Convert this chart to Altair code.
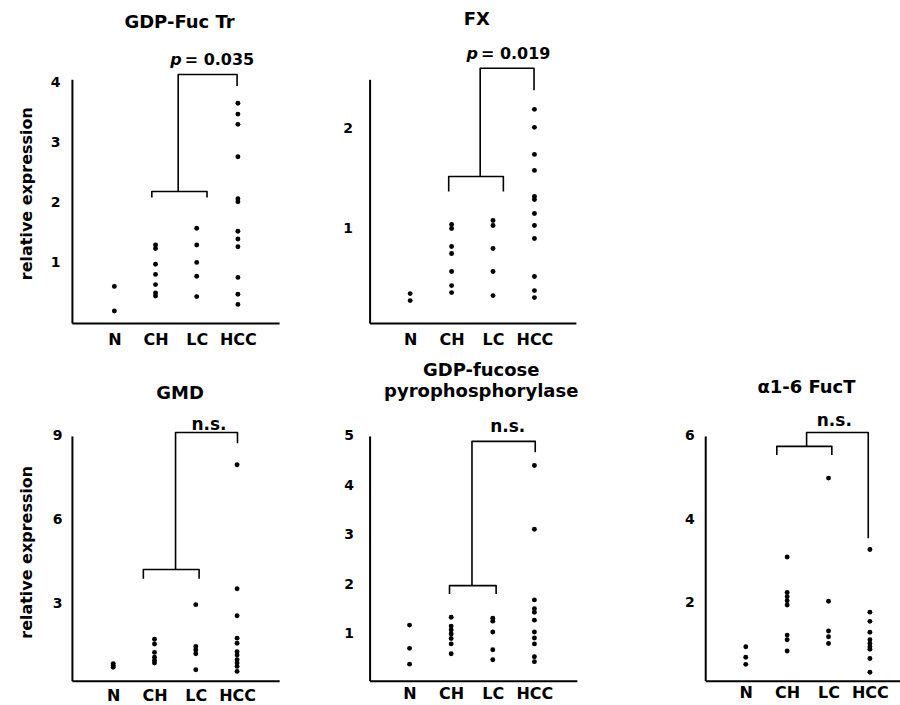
import json
import altair as alt
import pandas as pd

FONT = "DejaVu Sans"

categories = ["N", "CH", "LC", "HCC"]

# GDP-Fuc Tr
gft_N = [0.61, 0.20]
gft_CH = [1.30, 1.24, 0.98, 0.81, 0.64, 0.50, 0.45]
gft_LC = [1.58, 1.30, 1.01, 0.78, 0.44]
gft_HCC = [3.66, 3.48, 3.31, 2.77, 2.07, 2.02, 1.53, 1.40, 1.27, 0.76, 0.48, 0.31]

# FX
fx_N = [0.35, 0.28]
fx_CH = [1.04, 1.00, 0.82, 0.75, 0.57, 0.43, 0.36]
fx_LC = [1.08, 1.03, 0.80, 0.57, 0.33]
fx_HCC = [2.19, 2.01, 1.74, 1.58, 1.32, 1.29, 1.15, 1.03, 0.90, 0.52, 0.38, 0.31]

# GMD
gmd_N = [0.85, 0.78, 0.72]
gmd_CH = [1.72, 1.55, 1.25, 1.08, 0.96, 0.87]
gmd_LC = [2.96, 1.46, 1.34, 1.20, 0.63]
gmd_HCC = [7.97, 3.53, 2.56, 1.76, 1.58, 1.28, 1.16, 0.99, 0.87, 0.75, 0.57]

# GDP-fucose pyrophosphorylase
gfpp_N = [1.17, 0.70, 0.38]
gfpp_CH = [1.33, 1.15, 1.07, 0.99, 0.90, 0.79, 0.59]
gfpp_LC = [1.31, 1.25, 1.03, 0.67, 0.47]
gfpp_HCC = [4.40, 3.11, 1.68, 1.50, 1.43, 1.27, 1.03, 0.91, 0.79, 0.53, 0.43]

# alpha1-6 FucT
fuct_N = [0.95, 0.70, 0.53]
fuct_CH = [3.10, 2.25, 2.15, 2.05, 1.95, 1.23, 1.12, 0.85]
fuct_LC = [4.99, 2.04, 1.33, 1.19, 1.03]
fuct_HCC = [3.28, 1.78, 1.56, 1.30, 1.12, 1.03, 0.95, 0.89, 0.67, 0.34]

# significance brackets (data units): brace under CH+LC, link to HCC
gft_brace = ([0.91, 0.91, 2.25, 2.25], [2.09, 2.19, 2.19, 2.09])
gft_link = ([1.55, 1.55, 2.98, 2.98], [2.19, 4.14, 4.14, 3.95])
fx_brace = ([0.93, 0.93, 2.25, 2.25], [1.37, 1.52, 1.52, 1.37])
fx_link = ([1.69, 1.69, 2.99, 2.99], [1.52, 2.60, 2.60, 2.38])
gmd_brace = ([0.73, 0.73, 2.08, 2.08], [3.89, 4.22, 4.22, 3.89])
gmd_link = ([1.51, 1.51, 3.01, 3.01], [4.22, 9.12, 9.12, 8.74])
gfpp_brace = ([0.96, 0.96, 2.08, 2.08], [1.80, 1.97, 1.97, 1.80])
gfpp_link = ([1.50, 1.50, 3.02, 3.02], [1.97, 4.89, 4.89, 4.67])
fuct_brace = ([0.75, 0.75, 2.08, 2.08], [5.54, 5.75, 5.75, 5.54])
fuct_link = ([1.47, 1.47, 2.96, 2.96], [5.75, 6.08, 6.08, 3.55])

label_expr = json.dumps(categories) + "[datum.value]"


def points_df(groups):
    rows = []
    for i, (cat, vals) in enumerate(zip(categories, groups)):
        for v in vals:
            rows.append({"x": i, "cat": cat, "y": v})
    return pd.DataFrame(rows)


def bracket_df(brace, link):
    rows = []
    for seg, (xs, ys) in enumerate([brace, link]):
        for k, (x, y) in enumerate(zip(xs, ys)):
            rows.append({"seg": seg, "ord": k, "x": x, "y": y})
    return pd.DataFrame(rows)


def panel(groups, ydom, yticks, xdom, width, height, brace, link,
          sig, title, title_dx, title_offset, ylabel_pad, xlabel_pad,
          ytitle=None, ytitle_x=0, ytitle_y=0):
    xscale = alt.Scale(domain=xdom, nice=False, zero=False)
    yscale = alt.Scale(domain=ydom, nice=False, zero=False)
    xaxis = alt.Axis(values=[0, 1, 2, 3], labelExpr=label_expr, ticks=False,
                     grid=False, domainColor="black", domainWidth=2,
                     labelFont=FONT, labelFontSize=16, labelFontWeight="bold",
                     labelColor="black", labelPadding=xlabel_pad, title=None,
                     labelFlush=False, labelOverlap=False)
    ykw = dict(values=yticks, ticks=False, grid=False, domainColor="black",
               domainWidth=2, labelFont=FONT, labelFontSize=14,
               labelFontWeight="bold", labelColor="black",
               labelPadding=ylabel_pad, labelFlush=False, labelOverlap=False)
    if ytitle:
        ykw.update(title=ytitle, titleFont=FONT, titleFontSize=16,
                   titleFontWeight="bold", titleColor="black",
                   titleX=ytitle_x, titleY=ytitle_y, titleBaseline="middle",
                   titleAngle=270)
    else:
        ykw.update(title=None)
    yaxis = alt.Axis(**ykw)

    pts = alt.Chart(points_df(groups)).mark_circle(
        size=24, color="black", opacity=1
    )
    lines = alt.Chart(bracket_df(brace, link)).mark_line(
        color="black", strokeWidth=1.6, strokeJoin="round"
    ).encode(detail="seg:N", order="ord:Q")
    sx, sy, stext, italic = sig
    tdf = pd.DataFrame({"x": [sx], "y": [sy], "t": [stext]})
    layers = [pts, lines]
    if italic:
        layers.append(alt.Chart(tdf).mark_text(
            text="p", font=FONT, fontSize=16, fontWeight="bold",
            fontStyle="italic", align="right", baseline="alphabetic", dx=-1,
            color="black"
        ))
        layers.append(alt.Chart(tdf).mark_text(
            font=FONT, fontSize=16, fontWeight="bold", align="left",
            baseline="alphabetic", dx=2, color="black"
        ).encode(text="t:N"))
    else:
        layers.append(alt.Chart(tdf).mark_text(
            font=FONT, fontSize=17, fontWeight="bold", align="center",
            baseline="alphabetic", color="black"
        ).encode(text="t:N"))
    return alt.layer(*layers).encode(
        x=alt.X("x:Q", scale=xscale, axis=xaxis),
        y=alt.Y("y:Q", scale=yscale, axis=yaxis),
    ).properties(
        width=width, height=height,
        title=alt.TitleParams(text=title, font=FONT, fontSize=18,
                              fontWeight="bold", color="black",
                              anchor="middle", frame="group",
                              offset=title_offset, dx=title_dx, lineHeight=21),
    )


def blank(width, height):
    return alt.Chart(pd.DataFrame({"t": [""]})).mark_text().encode(
        text="t:N", x=alt.value(0), y=alt.value(0)
    ).properties(width=width, height=height)


p1 = panel([gft_N, gft_CH, gft_LC, gft_HCC], [0, 4.06], [1, 2, 3, 4],
           [-1.03, 4.0], 207.4, 244, gft_brace, gft_link,
           (1.66, 4.30, "= 0.035", True), "GDP-Fuc Tr", 4, 20, 12, 8,
           ytitle="relative expression", ytitle_x=-45, ytitle_y=114)
p2 = panel([fx_N, fx_CH, fx_LC, fx_HCC], [0.056, 2.49], [1, 2],
           [-0.98, 4.0], 206.5, 244, fx_brace, fx_link,
           (1.66, 2.69, "= 0.019", True), "FX", 4, 17, 17, 8)
p3 = panel([gmd_N, gmd_CH, gmd_LC, gmd_HCC], [0.24, 9], [3, 6, 9],
           [-1.0, 4.02], 207.5, 245, gmd_brace, gmd_link,
           (2.32, 9.22, "n.s.", False), "GMD", 4.5, 13, 10, 7,
           ytitle="relative expression", ytitle_x=-45, ytitle_y=116)
p4 = panel([gfpp_N, gfpp_CH, gfpp_LC, gfpp_HCC], [0.046, 5], [1, 2, 3, 4, 5],
           [-0.96, 4.02], 207.5, 245, gfpp_brace, gfpp_link,
           (2.36, 5.08, "n.s.", False), ["GDP-fucose", "pyrophosphorylase"],
           8, 17, 16, 5)
p5 = panel([fuct_N, fuct_CH, fuct_LC, fuct_HCC], [0.14, 6], [2, 4, 6],
           [-0.98, 3.72], 194.7, 245, fuct_brace, fuct_link,
           (2.14, 6.24, "n.s.", False), "\u03b11-6 FucT", 4, 15, 11, 4)

cells = [
    p1, blank(80, 10), p2, blank(117.3, 10), blank(194.7, 10),
    p3, blank(80, 10), p4, blank(117.3, 10), p5,
]

chart = alt.concat(
    *cells, columns=5, spacing={"row": 113, "column": 5},
    bounds="flush", align="each"
).configure_view(
    stroke=None
).properties(
    padding={"left": 18, "top": 10, "right": 0, "bottom": 0},
    background="white",
)

chart.save("out.html", embed_options={"renderer": "svg", "actions": False})
